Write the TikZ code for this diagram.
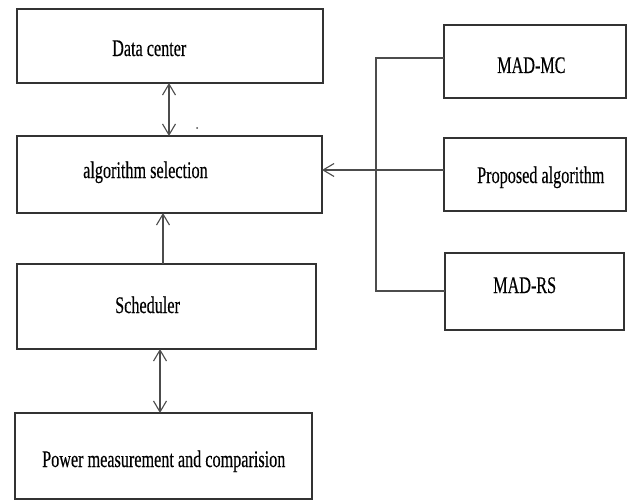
\documentclass[tikz,border=0pt]{standalone}
\usepackage{fontspec}
\setmainfont{Liberation Serif}[FakeStretch=0.68,FakeBold=0.3]
\usetikzlibrary{arrows.meta}
\begin{document}
\begin{tikzpicture}[x=1pt,y=-1pt,
  boxline/.style={draw=black!80,line width=1.6pt},
  txt/.style={anchor=base west,inner sep=0pt,font=\fontsize{23.8}{28}\selectfont},
  conn/.style={draw=black!70,line width=1.2pt},
  tip/.style={-{Straight Barb[length=11pt,width=13pt,line width=1.1pt]}},
  bitip/.style={{Straight Barb[length=11pt,width=13pt,line width=1.1pt]}-{Straight Barb[length=11pt,width=13pt,line width=1.1pt]}}]
\useasboundingbox[fill=white] (0,0) rectangle (631,500);
% boxes
\path[boxline] (17,9) rectangle (323,83);
\path[boxline] (17,136) rectangle (322,213);
\path[boxline] (17,264) rectangle (316,349);
\path[boxline] (15,413) rectangle (312,499);
\path[boxline] (444,25) rectangle (626,98);
\path[boxline] (444,138) rectangle (626,211);
\path[boxline] (445,253) rectangle (624,330);
% named anchors for the boxes
\coordinate (dcS) at (169,83);
\coordinate (asN1) at (169,136);
\coordinate (asS) at (163,213);
\coordinate (schN) at (163,264);
\coordinate (schS) at (160,349);
\coordinate (pwN) at (160,413);
\coordinate (asE) at (322,170);
\coordinate (paW) at (444,170);
\coordinate (mcW) at (444,58);
\coordinate (rsW) at (445,291);
\coordinate (bt) at (376,58);
\coordinate (bb) at (376,291);
% texts
\node[txt] (tdc) at (112,56) {Data center};
\node[txt] (tas) at (83,178) {algorithm selection};
\node[txt] (tsch) at (115,313) {Scheduler};
\node[txt] (tpw) at (42,467) {Power measurement and comparision};
\node[txt] (tmc) at (497,73) {MAD-MC};
\node[txt] (tpa) at (477,183) {Proposed algorithm};
\node[txt] (trs) at (493,293) {MAD-RS};
% connectors
\draw[conn,bitip] (dcS) -- (asN1);
\draw[conn,tip] (schN) -- (asS);
\draw[conn,bitip] (schS) -- (pwN);
\draw[conn] (mcW) -- (bt) -- (bb) -- (rsW);
\draw[conn,tip] (paW) -- (asE);
\fill[black!70] (197,128) circle (1pt);
\end{tikzpicture}
\end{document}
